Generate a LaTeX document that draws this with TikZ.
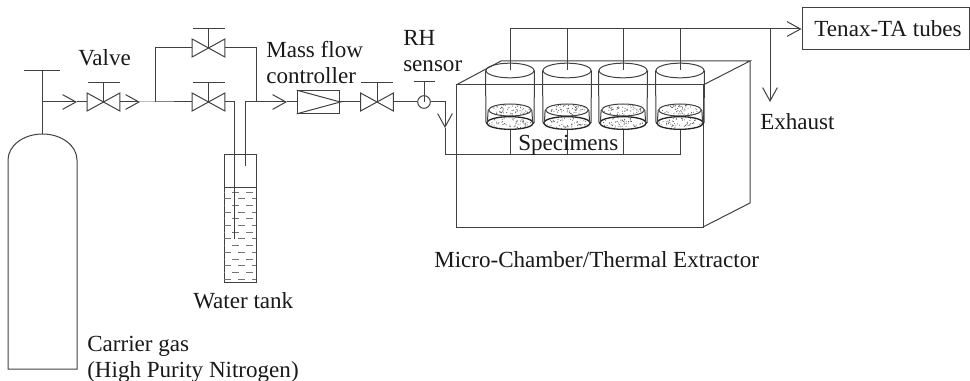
\documentclass[tikz,border=0pt]{standalone}
\usepackage{fontspec}
\setmainfont{Liberation Serif}
\usetikzlibrary{arrows.meta,shapes.geometric}

% valve: name, x, y
\newcommand{\valve}[3]{
	\node [valve body] (#1) at (#2,#3) {};
	\draw [pipe] (#1.north west) -- (#1.south east) -- (#1.north east) -- (#1.south west) -- cycle;
	\coordinate (#1 top) at (#2,#3-19);
	\draw [pipe] (#1.center) -- (#1 top);
	\draw [pipe] ([xshift=-12pt]#1 top) -- ([xshift=12pt]#1 top);
}
% stipple inside an ellipse: x, y, rx, ry
\newcommand{\stipple}[4]{
	\foreach \k in {1,...,55} {
		\pgfmathsetmacro{\ang}{rnd*360}
		\pgfmathsetmacro{\rad}{sqrt(rnd)*0.92}
		\fill [black!65] ({#1+#3*\rad*cos(\ang)},{#2+#4*\rad*sin(\ang)}) circle (0.4pt);
	}
}

\begin{document}
\begin{tikzpicture}[x=0.75pt,y=-0.75pt,>={Straight Barb[length=10pt,width=11pt]}]
	\tikzstyle{pipe}=[line width=0.75pt, draw=black!75]
	\tikzstyle{valve body}=[rectangle, inner sep=0pt, minimum width=24pt, minimum height=13pt]
	\tikzstyle{label}=[inner sep=0pt, anchor=base west, text=black!90, font=\fontsize{17.3}{19.5}\selectfont, align=left]
	\tikzstyle{lid}=[ellipse, pipe, inner sep=0pt, minimum width=36pt, minimum height=11pt]
	\tikzstyle{specimen}=[ellipse, pipe, inner sep=0pt, minimum width=32pt, minimum height=9pt]
	\tikzstyle{dish}=[ellipse, draw=black!85, line width=1pt, inner sep=0pt, minimum width=35pt, minimum height=9.5pt]
	\tikzstyle{water}=[line width=0.75pt, draw=black!55, dash pattern=on 5.25pt off 5.25pt]

	\useasboundingbox (0,0) rectangle (970,381);
	\pgfmathsetseed{42}

	% gas cylinder
	\coordinate (neck) at (42,134);
	\coordinate (handle) at (42,71);
	\coordinate (outlet) at (42,102);
	\draw [pipe] (8,369) -- (8,160) arc [start angle=180, end angle=360, x radius=34.5, y radius=26] -- (77,369) -- cycle;
	\draw [pipe] (neck) -- (handle);
	\draw [pipe] (24,71) -- (60,71);

	% valves
	\valve{v1}{103.5}{102}
	\valve{v2}{208.5}{48}
	\valve{v3}{208.5}{102}
	\valve{v4}{377}{102}

	% gas line up to the tank
	\coordinate (tip1) at (77,102);
	\coordinate (tip2) at (140,102);
	\coordinate (split) at (155,102);
	\coordinate (up1) at (155,48);
	\coordinate (up2) at (256,48);
	\coordinate (merge) at (256,102);
	\coordinate (tip3) at (287,102);
	\draw [pipe,->] (outlet) -- (tip1);
	\draw [pipe] (tip1) -- (v1.west);
	\draw [pipe,->] (v1.east) -- (tip2);
	\draw [pipe] (tip2) -- (split) -- (v3.west);
	\draw [pipe] (split) -- (up1) -- (v2.west);
	\draw [pipe] (v2.east) -- (up2) -- (merge);

	% water tank
	\node [pipe, draw, rectangle, inner sep=0pt, minimum width=24pt, minimum height=95.25pt] (tank) at (240,218.5) {};
	\foreach \i in {0,2,...,12} {
		\draw [water, dash phase=4.5pt] (224,192+6.7*\i) -- (256,192+6.7*\i);
		\draw [water] (224,198.7+6.7*\i) -- (256,198.7+6.7*\i);
	}
	\draw [pipe] (224,187) -- (256,187);
	\coordinate (in top) at (234.5,102);
	\coordinate (in end) at (234.5,239);
	\coordinate (out top) at (245,102);
	\coordinate (out end) at (245,166);
	\draw [pipe] (v3.east) -- (in top) -- (in end);
	\draw [pipe] (out end) -- (out top) -- (merge);
	\draw [pipe,->] (merge) -- (tip3);

	% flow controller and sensor
	\node [pipe, draw, rectangle, inner sep=0pt, minimum width=32pt, minimum height=17pt] (mfc) at (318.5,102) {};
	\draw [pipe] (mfc.north west) -- (mfc.east) -- (mfc.south west);
	\node [pipe, draw, circle, inner sep=0pt, minimum size=9.5pt] (rh) at (424,102) {};
	\coordinate (rh top) at (424,82);
	\draw [pipe] (rh.center) -- (rh top);
	\draw [pipe] (413.5,82) -- (434.5,82);
	\coordinate (bend) at (445,102);
	\coordinate (tip4) at (445,128);
	\coordinate (manifold) at (445,155);
	\coordinate (manifold end) at (680,155);
	\draw [pipe] (tip3) -- (mfc.west);
	\draw [pipe] (mfc.east) -- (v4.west);
	\draw [pipe] (v4.east) -- (rh.west);
	\draw [pipe,->] (rh.east) -- (bend) -- (tip4);
	\draw [pipe] (tip4) -- (manifold) -- (manifold end);

	% chamber
	\draw [pipe] (456,85) rectangle (703,227);
	\draw [pipe] (456,85) -- (501,61) -- (750,61) -- (703,85);
	\draw [pipe] (750,61) -- (750,203) -- (703,227);

	% cups
	\coordinate (header) at (510,29);
	\foreach \i/\x in {1/510,2/567,3/623,4/680} {
		\node [lid] (lid\i) at (\x,70.5) {};
		\node [specimen] (top\i) at (\x,110) {};
		\node [dish] (dish\i) at (\x,123) {};
		\draw [pipe] (lid\i.west) -- (dish\i.west);
		\draw [pipe] (lid\i.east) -- (dish\i.east);
		\draw [pipe] (top\i.west) -- ([xshift=1pt]dish\i.west);
		\draw [pipe] (top\i.east) -- ([xshift=-1pt]dish\i.east);
		\stipple{\x}{110}{21}{6}
		\stipple{\x}{123}{23}{6}
		\draw [pipe] (\x,29) -- (lid\i.center);
		\draw [pipe] (dish\i.south) -- (\x,155);
	}

	% outlet
	\node [pipe, draw, rectangle, inner sep=0pt, minimum width=125.25pt, minimum height=31.5pt] (tenax) at (885.5,29) {};
	\node [label, anchor=center] (tenax label) at (888,29) {Tenax-TA tubes};
	\coordinate (exhaust) at (770,29);
	\coordinate (exhaust tip) at (770,102);
	\draw [pipe,->] (header) -- (tenax.west);
	\draw [pipe,->] (exhaust) -- (exhaust tip);

	% labels
	\node [label] (valve label) at (78,66) {Valve};
	\node [label] (mfc label) at (266,84) {Mass flow\\controller};
	\node [label] (rh label) at (403,72) {RH\\sensor};
	\node [label] (specimens) at (518,151) {Specimens};
	\node [label] (exhaust label) at (760,130) {Exhaust};
	\node [label] (chamber) at (434,267) {Micro-Chamber/Thermal Extractor};
	\node [label] (tank label) at (193,308) {Water tank};
	\node [label] (carrier) at (87,377) {Carrier gas\\(High Purity Nitrogen)};
\end{tikzpicture}
\end{document}
